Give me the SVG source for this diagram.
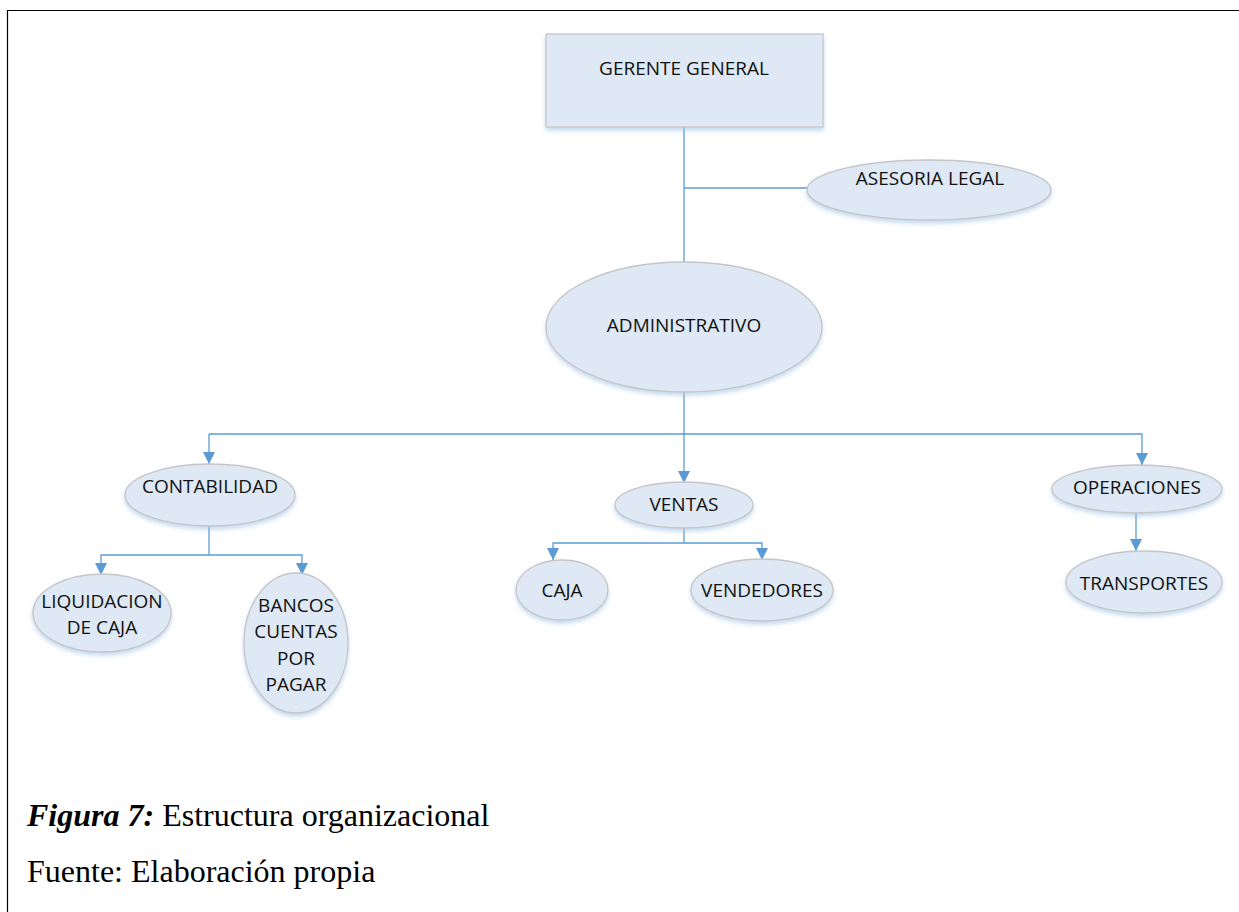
<svg xmlns="http://www.w3.org/2000/svg" width="1239" height="912" viewBox="0 0 1239 912">
  <defs>
    <marker id="arrow" viewBox="0 0 12 12" refX="12" refY="6" markerWidth="12" markerHeight="12" markerUnits="userSpaceOnUse" orient="auto">
      <path d="M0,0 L12,6 L0,12 Z" fill="#5b9bd5"/>
    </marker>
    <filter id="shadow" x="-10%" y="-10%" width="120%" height="130%">
      <feGaussianBlur in="SourceAlpha" stdDeviation="2"/>
      <feOffset dx="0" dy="3" result="b"/>
      <feFlood flood-color="#9dc3e6" flood-opacity="0.6"/>
      <feComposite in2="b" operator="in"/>
      <feMerge><feMergeNode/><feMergeNode in="SourceGraphic"/></feMerge>
    </filter>
  </defs>
  <style>
    .shape { fill: #dee9f5; stroke: #c6c6c6; stroke-width: 1.3; filter: url(#shadow); }
    .lbl { font-family: "Open Sans", "Liberation Sans", sans-serif; font-size: 19px; fill: #111; text-anchor: middle; }
    .wire { fill: none; stroke: #5b9bd5; stroke-width: 1.3; }
    .cap { font-family: "Liberation Serif", "Times New Roman", serif; font-size: 32px; fill: #000; }
  </style>
  <rect width="1239" height="912" fill="#fff"/>
  <!-- page frame -->
  <path d="M7.5,912 V10.5 H1239" fill="none" stroke="#000" stroke-width="1.2"/>

  <g id="connectors">
    <path class="wire" d="M684,127 V263"/>
    <path class="wire" d="M684,188 H808"/>
    <path class="wire" d="M684,392 V434"/>
    <path class="wire" d="M209,434 H1142 V465" marker-end="url(#arrow)"/>
    <path class="wire" d="M209,434 V464" marker-end="url(#arrow)"/>
    <path class="wire" d="M684,434 V483" marker-end="url(#arrow)"/>
    <path class="wire" d="M209,526 V555"/>
    <path class="wire" d="M209,555 H101 V575" marker-end="url(#arrow)"/>
    <path class="wire" d="M209,555 H302 V575" marker-end="url(#arrow)"/>
    <path class="wire" d="M684,527 V543"/>
    <path class="wire" d="M684,543 H553 V560" marker-end="url(#arrow)"/>
    <path class="wire" d="M684,543 H762 V560" marker-end="url(#arrow)"/>
    <path class="wire" d="M1136,512 V551" marker-end="url(#arrow)"/>
  </g>

  <g id="gerente-general">
    <rect class="shape" x="546" y="34" width="277" height="93"/>
    <text class="lbl" x="684" y="75">GERENTE GENERAL</text>
  </g>
  <g id="asesoria-legal">
    <ellipse class="shape" cx="929" cy="190" rx="122" ry="30"/>
    <text class="lbl" x="930" y="185">ASESORIA LEGAL</text>
  </g>
  <g id="administrativo">
    <ellipse class="shape" cx="684" cy="327" rx="138" ry="65"/>
    <text class="lbl" x="684" y="332">ADMINISTRATIVO</text>
  </g>
  <g id="contabilidad">
    <ellipse class="shape" cx="210" cy="495" rx="85" ry="31"/>
    <text class="lbl" x="210" y="493">CONTABILIDAD</text>
  </g>
  <g id="ventas">
    <ellipse class="shape" cx="684" cy="505" rx="69" ry="23"/>
    <text class="lbl" x="684" y="511">VENTAS</text>
  </g>
  <g id="operaciones">
    <ellipse class="shape" cx="1137" cy="489" rx="85" ry="24"/>
    <text class="lbl" x="1137" y="494">OPERACIONES</text>
  </g>
  <g id="liquidacion-de-caja">
    <ellipse class="shape" cx="102" cy="613" rx="69" ry="39"/>
    <text class="lbl" x="102" y="608">LIQUIDACION</text>
    <text class="lbl" x="102" y="634">DE CAJA</text>
  </g>
  <g id="bancos-cuentas-por-pagar">
    <ellipse class="shape" cx="296" cy="643" rx="52" ry="70"/>
    <text class="lbl" x="296" y="612">BANCOS</text>
    <text class="lbl" x="296" y="638">CUENTAS</text>
    <text class="lbl" x="296" y="665">POR</text>
    <text class="lbl" x="296" y="691">PAGAR</text>
  </g>
  <g id="caja">
    <ellipse class="shape" cx="562" cy="590" rx="46" ry="30"/>
    <text class="lbl" x="562" y="597">CAJA</text>
  </g>
  <g id="vendedores">
    <ellipse class="shape" cx="762" cy="590" rx="71" ry="31"/>
    <text class="lbl" x="762" y="597">VENDEDORES</text>
  </g>
  <g id="transportes">
    <ellipse class="shape" cx="1144" cy="582" rx="78" ry="31"/>
    <text class="lbl" x="1144" y="590">TRANSPORTES</text>
  </g>

  <text class="cap" x="27" y="826"><tspan font-weight="bold" font-style="italic">Figura 7:</tspan> Estructura organizacional</text>
  <text class="cap" x="27" y="882">Fuente: Elaboración propia</text>
</svg>
